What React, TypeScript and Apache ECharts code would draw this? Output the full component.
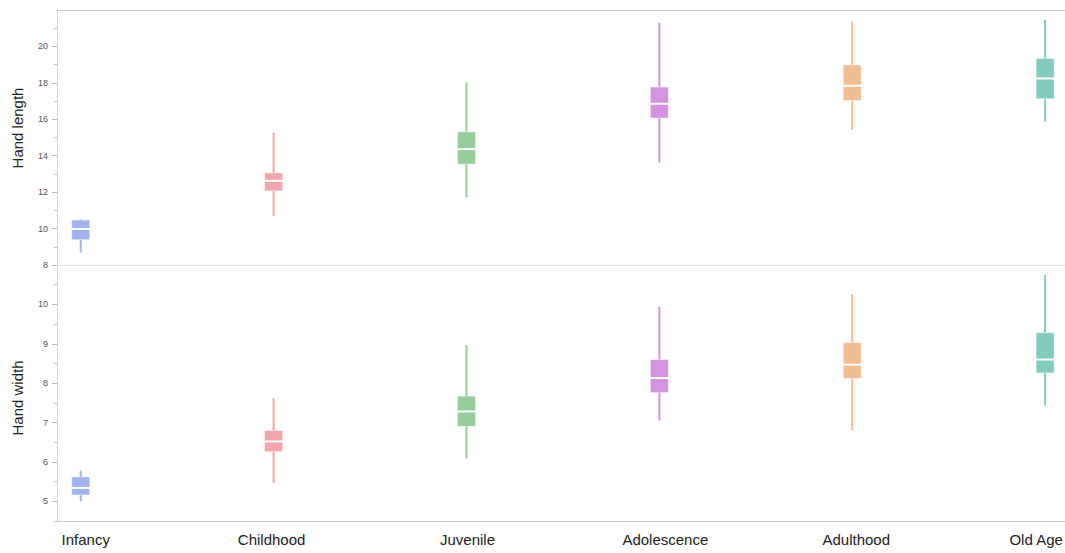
import React, { useEffect, useRef } from "react";
import * as echarts from "echarts";

// Life stages along the horizontal axis
const stages = ["Infancy", "Childhood", "Juvenile", "Adolescence", "Adulthood", "Old Age"];
const stageColors = ["#9fb3ee", "#f2a5aa", "#97cd9c", "#d492e1", "#f2bd91", "#83cbbf"];

// Box statistics per stage: [min, Q1, median, Q3, max]
const handLength = [
  [8.68, 9.39, 9.98, 10.47, 10.51],
  [10.69, 12.07, 12.62, 13.06, 15.26],
  [11.72, 13.54, 14.36, 15.31, 18.02],
  [13.62, 16.07, 16.85, 17.77, 21.3],
  [15.42, 17.03, 17.84, 18.98, 21.36],
  [15.86, 17.13, 18.24, 19.34, 21.47],
];
const handWidth = [
  [5.0, 5.16, 5.34, 5.62, 5.78],
  [5.47, 6.26, 6.52, 6.8, 7.61],
  [6.09, 6.9, 7.28, 7.67, 8.97],
  [7.05, 7.76, 8.13, 8.6, 9.94],
  [6.81, 8.12, 8.47, 9.03, 10.26],
  [7.43, 8.26, 8.6, 9.28, 10.75],
];

// Axis ticks
const stageTicks = [0, 1, 2, 3, 4, 5];
const lengthTicks = [8, 10, 12, 14, 16, 18, 20];
const lengthMinorTicks = [9, 11, 13, 15, 17, 19, 21];
const widthTicks = [5, 6, 7, 8, 9, 10];
const widthMinorTicks = [4.5, 5.5, 6.5, 7.5, 8.5, 9.5, 10.5];

const FONT = "Arial, 'Liberation Sans', sans-serif";

// Horizontal nudge (px) of each stage label relative to its box centre
const labelNudge = [5, -2, 1, 6, 4, -9];

const stageLabelRich: Record<string, any> = {};
labelNudge.forEach((d, i) => {
  stageLabelRich["s" + i] = {
    fontSize: 15,
    color: "#222",
    fontFamily: FONT,
    padding: d >= 0 ? [0, 0, 0, 2 * d] : [0, -2 * d, 0, 0],
  };
});

function renderBox(params: any, api: any) {
  const x = api.value(0);
  const lo = api.coord([x, api.value(1)]);
  const q1 = api.coord([x, api.value(2)]);
  const med = api.coord([x, api.value(3)]);
  const q3 = api.coord([x, api.value(4)]);
  const hi = api.coord([x, api.value(5)]);
  const color = stageColors[params.dataIndex];
  const half = 9;
  return {
    type: "group",
    children: [
      {
        type: "line",
        shape: { x1: lo[0], y1: lo[1], x2: hi[0], y2: hi[1] },
        style: { stroke: color, lineWidth: 2 },
      },
      {
        type: "rect",
        shape: { x: q3[0] - half, y: q3[1], width: half * 2, height: q1[1] - q3[1] },
        style: { fill: color, stroke: "rgba(255,255,255,0.45)", lineWidth: 1 },
      },
      {
        type: "line",
        shape: { x1: med[0] - half, y1: med[1], x2: med[0] + half, y2: med[1] },
        style: { stroke: "#ffffff", lineWidth: 2 },
      },
    ],
  };
}

function stageAxis(gridIndex: number, position: string, lineColor: string, labels: boolean) {
  return {
    type: "value",
    gridIndex,
    position,
    min: -0.123,
    max: 5.103,
    axisLine: { show: true, onZero: false, lineStyle: { color: lineColor, width: 1 } },
    axisTick: { show: false },
    splitLine: { show: false },
    axisLabel: labels
      ? {
          show: true,
          customValues: stageTicks,
          formatter: (v: number) => {
            const i = Math.round(v);
            return stages[i] ? `{s${i}|${stages[i]}}` : "";
          },
          rich: stageLabelRich,
          fontSize: 15,
          color: "#222",
          fontFamily: FONT,
          margin: 11,
        }
      : { show: false },
  };
}

function measureAxis(gridIndex: number, min: number, max: number, ticks: number[]) {
  return {
    type: "value",
    gridIndex,
    position: "left",
    offset: 0,
    min,
    max,
    axisLine: { show: true, onZero: false, lineStyle: { color: "#d0d0d0" } },
    axisTick: { show: true, customValues: ticks, length: 5, lineStyle: { color: "#b8b8b8" } },
    axisLabel: {
      show: true,
      customValues: ticks,
      fontSize: 9,
      color: "#555",
      fontFamily: FONT,
      margin: 9,
    },
    splitLine: { show: false },
  };
}

function minorAxis(gridIndex: number, min: number, max: number, ticks: number[]) {
  return {
    type: "value",
    gridIndex,
    position: "left",
    offset: 0,
    min,
    max,
    axisLine: { show: false, onZero: false },
    axisTick: { show: true, customValues: ticks, length: 3, lineStyle: { color: "#c4c4c4" } },
    axisLabel: { show: false },
    splitLine: { show: false },
  };
}

export default function App() {
  const ref = useRef<HTMLDivElement>(null);

  useEffect(() => {
    if (!ref.current) return;
    const chart = echarts.init(ref.current, undefined, { renderer: "svg" });
    chart.setOption({
      animation: false,
      backgroundColor: "#ffffff",
      grid: [
        { left: 57, width: 1008, top: 10, height: 255, outerBoundsMode: "none", containLabel: false },
        { left: 57, width: 1008, top: 265, height: 256, outerBoundsMode: "none", containLabel: false },
      ],
      xAxis: [
        stageAxis(0, "bottom", "#e2e2e2", false),
        stageAxis(0, "top", "#c8c8c8", false),
        stageAxis(1, "bottom", "#c8c8c8", true),
      ],
      yAxis: [
        measureAxis(0, 8, 22, lengthTicks),
        minorAxis(0, 8, 22, lengthMinorTicks),
        measureAxis(1, 4.5, 11, widthTicks),
        minorAxis(1, 4.5, 11, widthMinorTicks),
      ],
      graphic: [
        {
          type: "text",
          x: 17,
          y: 128,
          rotation: Math.PI / 2,
          style: {
            text: "Hand length",
            fontSize: 15,
            fontFamily: FONT,
            fill: "#222",
            align: "center",
            verticalAlign: "middle",
          },
        },
        {
          type: "text",
          x: 17,
          y: 398,
          rotation: Math.PI / 2,
          style: {
            text: "Hand width",
            fontSize: 15,
            fontFamily: FONT,
            fill: "#222",
            align: "center",
            verticalAlign: "middle",
          },
        },
      ],
      series: [
        {
          name: "Hand length",
          type: "custom",
          xAxisIndex: 0,
          yAxisIndex: 0,
          renderItem: renderBox,
          encode: { x: 0, y: [1, 2, 3, 4, 5] },
          data: handLength.map((row, i) => [i, ...row]),
        },
        {
          name: "Hand width",
          type: "custom",
          xAxisIndex: 2,
          yAxisIndex: 2,
          renderItem: renderBox,
          encode: { x: 0, y: [1, 2, 3, 4, 5] },
          data: handWidth.map((row, i) => [i, ...row]),
        },
      ],
    });
    return () => chart.dispose();
  }, []);

  return (
    <div
      ref={ref}
      style={{ position: "absolute", left: 0, top: 0, width: 1065, height: 553 }}
    />
  );
}
